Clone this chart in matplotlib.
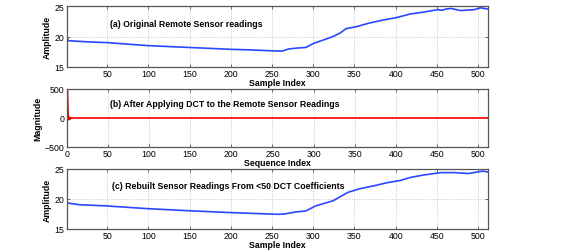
import matplotlib
matplotlib.use("Agg")
import matplotlib.pyplot as plt

plt.rcParams['font.family'] = ['Liberation Sans', 'DejaVu Sans']

# (a) original readings
orig_idx = [1, 3, 10, 30, 50, 75, 100, 125, 150, 175, 200, 225, 250, 262, 270, 280, 291,
            301, 315, 325, 333, 340, 352, 368, 385, 401, 418, 434, 451, 456, 461, 467,
            479, 495, 503, 512]
orig_val = [20.1, 19.3, 19.25, 19.1, 19.0, 18.75, 18.5, 18.35, 18.2, 18.05, 17.9, 17.8,
            17.65, 17.6, 17.95, 18.1, 18.2, 18.9, 19.55, 20.05, 20.6, 21.3, 21.6, 22.2,
            22.7, 23.1, 23.7, 24.0, 24.4, 24.3, 24.5, 24.6, 24.25, 24.4, 24.7, 24.5]

# (b) DCT coefficients (1-based sequence index)
dct_idx = [1, 2, 3, 4, 5, 6, 7, 512]
dct_val = [470, -30, 15, -25, 8, 0, 0, 0]

# (c) rebuilt readings
rec_idx = [1, 16, 49, 98, 148, 197, 246, 258, 265, 279, 291, 303, 324, 342, 356, 377,
           389, 406, 418, 434, 455, 471, 488, 506, 512]
rec_val = [19.35, 19.05, 18.85, 18.4, 18.05, 17.75, 17.5, 17.45, 17.5, 17.85, 18.0, 18.85,
           19.7, 21.1, 21.7, 22.3, 22.7, 23.1, 23.6, 24.0, 24.4, 24.4, 24.25, 24.65, 24.5]

W, H = 570, 253
fig = plt.figure(figsize=(W / 100, H / 100), dpi=100)

left = 66.7 / W
width = (488 - 66.7) / W

def mk(top, bottom):
    return fig.add_axes([left, 1 - bottom / H, width, (bottom - top) / H])

fs = 6.3
edge = '#555555'
blue = '#2a48ff'

def style(ax):
    for s in ax.spines.values():
        s.set_color(edge)
        s.set_linewidth(0.9)
    ax.tick_params(direction='in', length=2.5, width=0.6, color=edge, labelsize=fs,
                   top=True, right=True, pad=1.5)
    ax.grid(True, linestyle=':', color='#bbbbbb', linewidth=0.6)
    ax.set_axisbelow(True)

ax1 = mk(7, 68)
ax1.plot(orig_idx, orig_val, color=blue, lw=1.2)
ax1.set_xlim(1, 512)
ax1.set_ylim(15, 25)
ax1.set_xticks([50, 100, 150, 200, 250, 300, 350, 400, 450, 500])
ax1.set_yticks([15, 20, 25])
ax1.set_xlabel('Sample Index', fontsize=fs, fontweight='bold', labelpad=0)
ax1.set_ylabel('Amplitude', fontsize=fs, fontweight='bold', labelpad=2)
ax1.text(53, 22.2, '(a) Original Remote Sensor readings', fontsize=fs, fontweight='bold', va='center')
style(ax1)

ax2 = mk(90, 148)
ax2.plot(dct_idx, dct_val, color='red', lw=1.2)
ax2.set_xlim(0, 512)
ax2.set_ylim(-500, 500)
ax2.set_xticks([0, 50, 100, 150, 200, 250, 300, 350, 400, 450, 500])
ax2.set_yticks([-500, 0, 500])
ax2.set_yticklabels(['\u2212500', '0', '500'])
ax2.set_xlabel('Sequence Index', fontsize=fs, fontweight='bold', labelpad=0)
ax2.set_ylabel('Magnitude', fontsize=fs, fontweight='bold', labelpad=2)
ax2.text(53, 250, '(b) After Applying DCT to the Remote Sensor Readings', fontsize=fs,
         fontweight='bold', va='center')
style(ax2)

ax3 = mk(170, 230)
ax3.plot(rec_idx, rec_val, color=blue, lw=1.2)
ax3.set_xlim(1, 512)
ax3.set_ylim(15, 25)
ax3.set_xticks([50, 100, 150, 200, 250, 300, 350, 400, 450, 500])
ax3.set_yticks([15, 20, 25])
ax3.set_xlabel('Sample Index', fontsize=fs, fontweight='bold', labelpad=0)
ax3.set_ylabel('Amplitude', fontsize=fs, fontweight='bold', labelpad=2)
ax3.text(56, 22.2, '(c) Rebuilt Sensor Readings From <50 DCT Coefficients', fontsize=fs,
         fontweight='bold', va='center')
style(ax3)

fig.savefig('out.png', dpi=100)
